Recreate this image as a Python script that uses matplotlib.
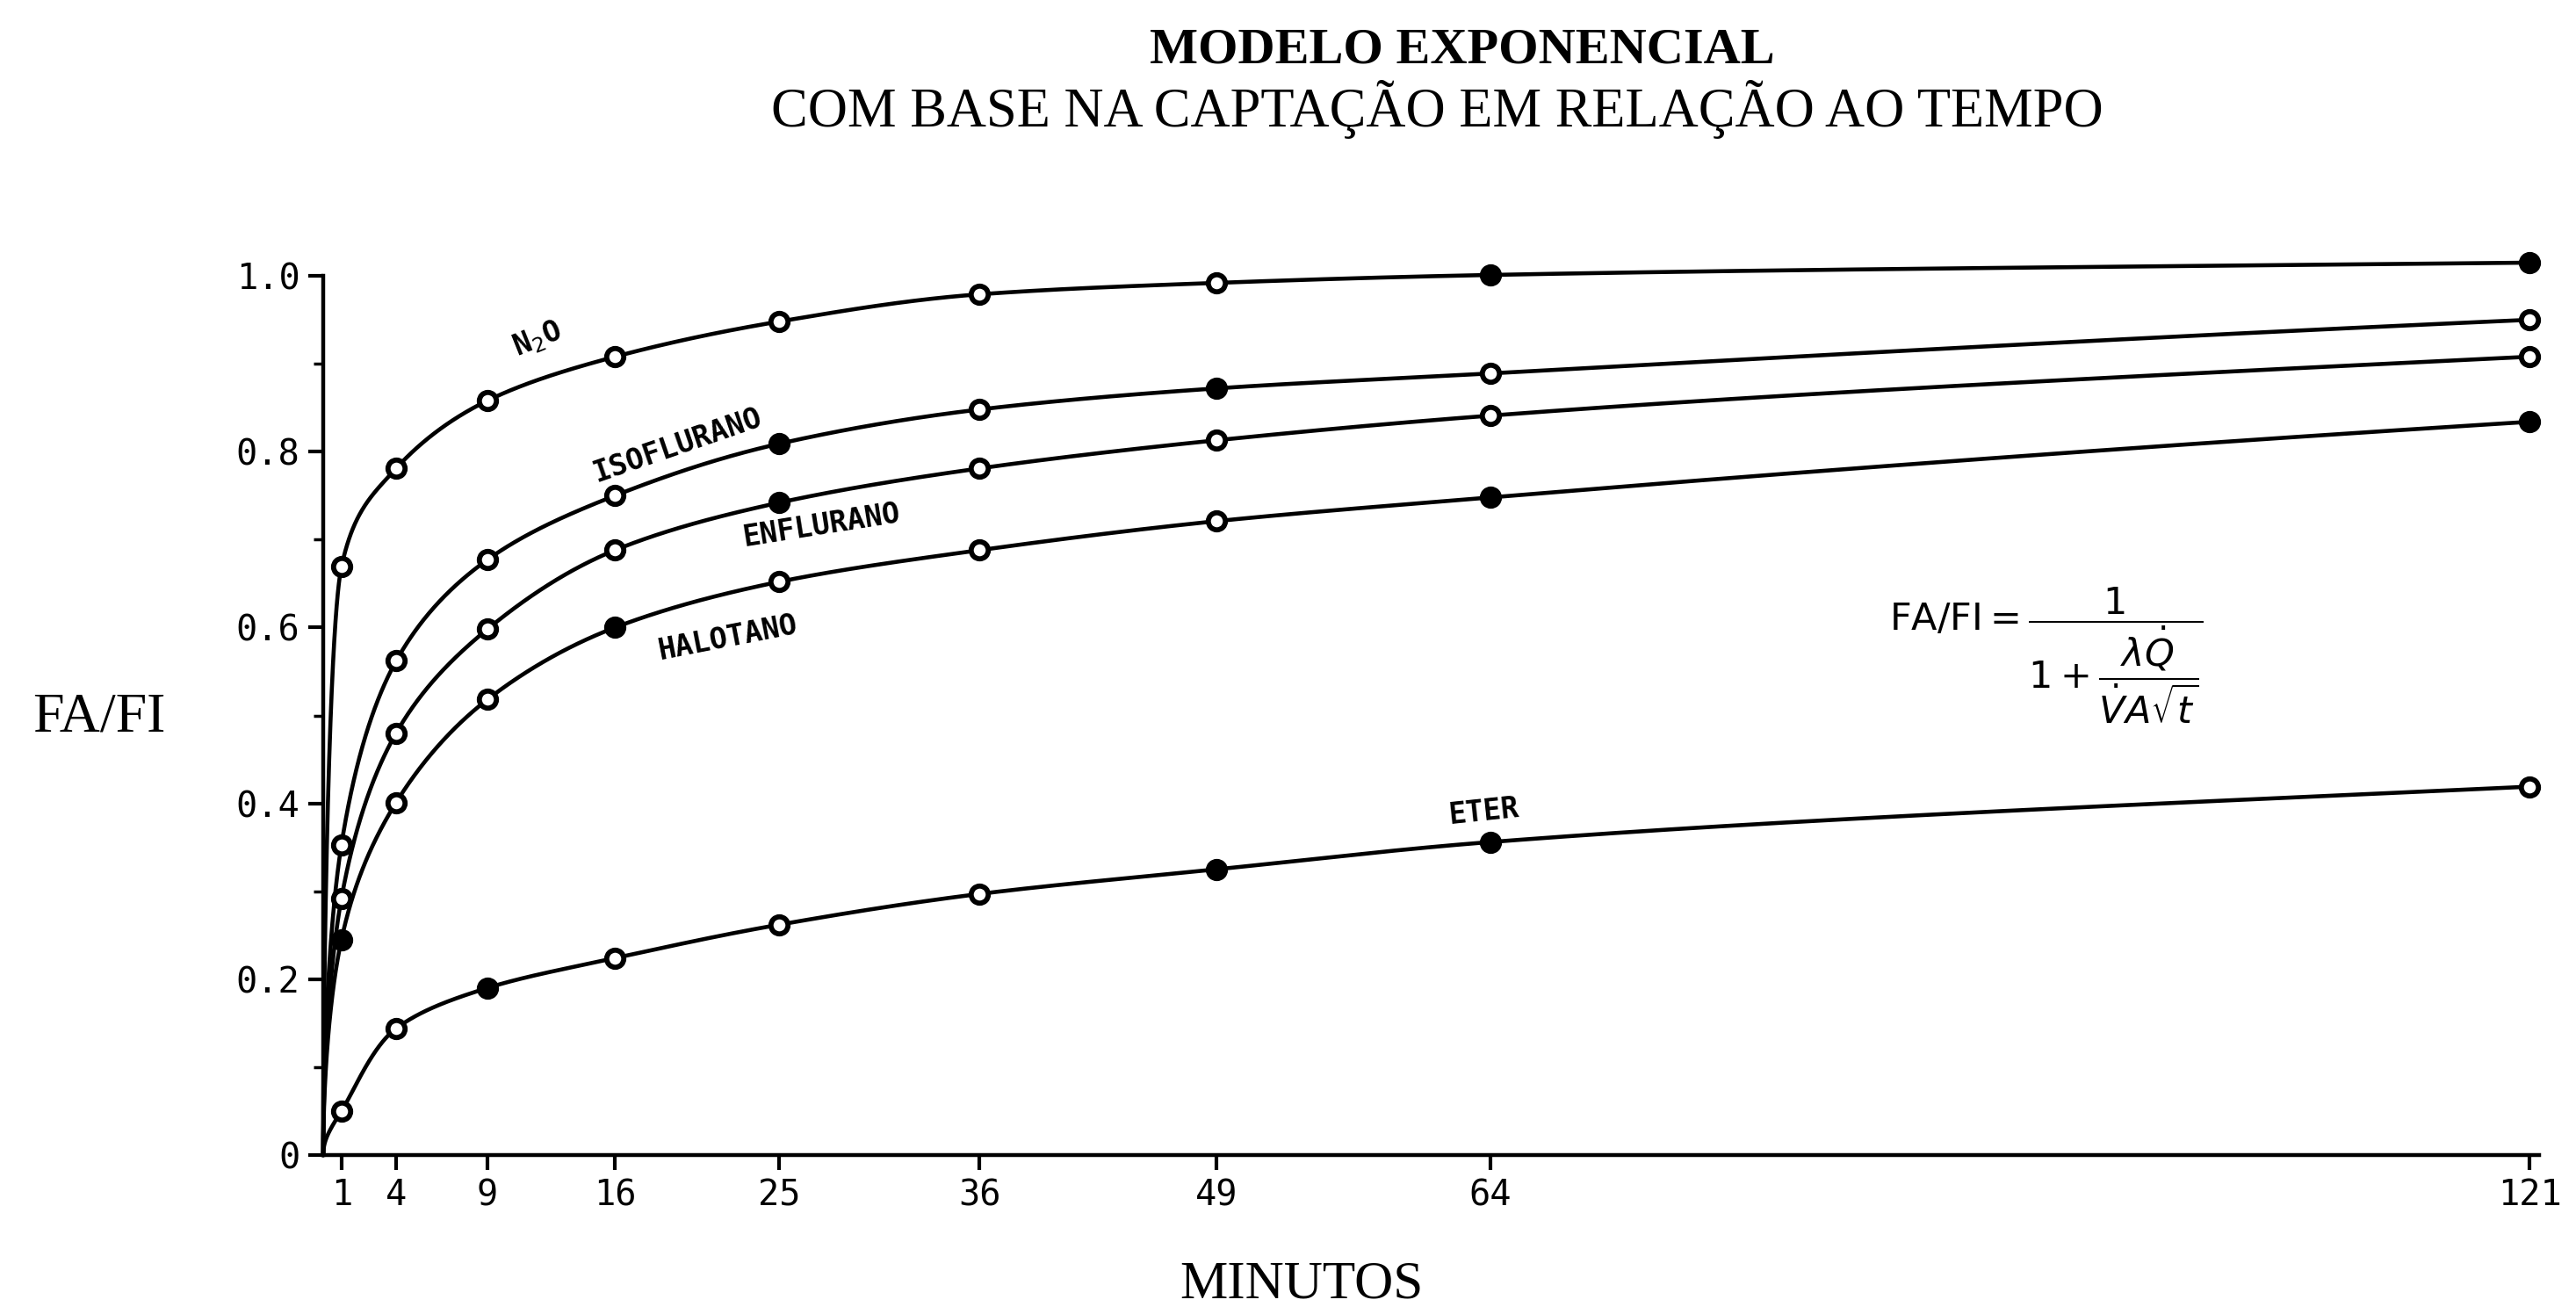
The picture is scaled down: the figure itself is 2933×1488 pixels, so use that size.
import numpy as np
import matplotlib
matplotlib.use('Agg')
import matplotlib.pyplot as plt

# ---------------- data ----------------
minutes = [1, 4, 9, 16, 25, 36, 49, 64, 121]
n2o        = [0.669, 0.781, 0.858, 0.908, 0.948, 0.979, 0.992, 1.001, 1.015]
isoflurano = [0.353, 0.562, 0.677, 0.750, 0.809, 0.848, 0.872, 0.889, 0.950]
enflurano  = [0.292, 0.480, 0.598, 0.688, 0.742, 0.781, 0.813, 0.841, 0.908]
halotano   = [0.245, 0.401, 0.518, 0.600, 0.652, 0.688, 0.721, 0.748, 0.834]
eter       = [0.050, 0.144, 0.190, 0.224, 0.262, 0.297, 0.325, 0.356, 0.419]
series_names = ['N$_2$O', 'ISOFLURANO', 'ENFLURANO', 'HALOTANO', 'ETER']
series_vals = [n2o, isoflurano, enflurano, halotano, eter]
# marker fill pattern (f = filled, o = open)
fills = [
    'oooooooff',
    'oooofofoo',
    'oooofoooo',
    'foofoooff',
    'oofoooffo',
]
yticks = [0, 0.2, 0.4, 0.6, 0.8, 1.0]
ytick_labels = ['0', '0.2', '0.4', '0.6', '0.8', '1.0']
xtick_labels = [str(m) for m in minutes]


def pchip(x, y, xn):
    x = np.asarray(x, float); y = np.asarray(y, float)
    h = np.diff(x); d = np.diff(y) / h
    n = len(x); m = np.zeros(n)
    for k in range(1, n - 1):
        if d[k - 1] * d[k] > 0:
            w1 = 2 * h[k] + h[k - 1]; w2 = h[k] + 2 * h[k - 1]
            m[k] = (w1 + w2) / (w1 / d[k - 1] + w2 / d[k])
    m[0] = d[0]; m[-1] = d[-1]
    idx = np.clip(np.searchsorted(x, xn) - 1, 0, n - 2)
    t = (xn - x[idx]) / h[idx]
    h00 = 2 * t**3 - 3 * t**2 + 1; h10 = t**3 - 2 * t**2 + t
    h01 = -2 * t**3 + 3 * t**2; h11 = t**3 - t**2
    return h00 * y[idx] + h10 * h[idx] * m[idx] + h01 * y[idx + 1] + h11 * h[idx] * m[idx + 1]


W, H = 2933, 1488
fig = plt.figure(figsize=(W / 100, H / 100), dpi=100)
fig.patch.set_facecolor('white')

left = 368 / W
bottom = 1 - 1315 / H
ax = fig.add_axes([left, bottom, (2901 - 368) / W, (1315 - 284) / H])
ax.set_xlim(0, 122)
ax.set_ylim(0, 1.03)

s_pts = np.sqrt(np.array([0] + minutes, float))
s_fine = np.linspace(0, s_pts[-1], 1500)
for vals, fl in zip(series_vals, fills):
    yv = np.array([0.0] + list(vals))
    yf = pchip(s_pts, yv, s_fine)
    ax.plot(s_fine**2, yf, color='black', lw=3.3, solid_capstyle='round', clip_on=False, zorder=2)
    for t, v, f in zip(minutes, vals, fl):
        ax.plot([t], [v], marker='o', ms=14, mew=4.2, mec='black',
                mfc='black' if f == 'f' else 'white', clip_on=False, zorder=3)

for sp in ['top', 'right']:
    ax.spines[sp].set_visible(False)
for sp in ['left', 'bottom']:
    ax.spines[sp].set_linewidth(3.2)
ax.spines['left'].set_bounds(0, 1.0)
ax.spines['bottom'].set_bounds(0, 121.5)

mono = 'DejaVu Sans Mono'
ax.set_yticks(yticks)
ax.set_yticklabels(ytick_labels, fontfamily=mono, fontsize=29)
ax.set_xticks(minutes)
ax.set_xticklabels(xtick_labels, fontfamily=mono, fontsize=29)
ax.set_yticks(np.arange(0.1, 1.0, 0.2), minor=True)
ax.tick_params(axis='both', which='major', direction='out', length=12, width=3, pad=7)
ax.tick_params(axis='y', which='minor', direction='out', length=8, width=2.5)

# curve labels
labels_pos = [(612, 386, 22), (771, 507, 19), (935, 598, 9), (829, 726, 11), (1689, 924, 6)]
for name, (px, py, rot) in zip(series_names, labels_pos):
    fig.text(px / W, 1 - py / H, name, fontfamily=mono, fontweight='bold', fontsize=24,
             ha='center', va='center', rotation=rot, rotation_mode='anchor')

# formula
fig.text(2151 / W, 1 - 718 / H,
         r'FA/FI$=\dfrac{1}{1+\dfrac{\lambda\dot{Q}}{\dot{V}A\sqrt{t}}}$',
         fontfamily='DejaVu Sans', fontsize=31, ha='left', va='baseline',
         math_fontfamily='dejavusans')

# titles & axis labels
serif = 'Liberation Serif'
fig.text(1665 / W, 1 - 58 / H, 'MODELO EXPONENCIAL', fontfamily=serif, fontweight='bold',
         fontsize=42, ha='center', va='center')
fig.text(1636 / W, 1 - 124 / H, 'COM BASE NA CAPTAÇÃO EM RELAÇÃO AO TEMPO', fontfamily=serif,
         fontsize=45, ha='center', va='center')
fig.text(113 / W, 1 - 818 / H, 'FA/FI', fontfamily=serif, fontsize=46, ha='center', va='center')
fig.text(1482 / W, 1 - 1463 / H, 'MINUTOS', fontfamily=serif, fontsize=44, ha='center', va='center')

fig.savefig('out.png', dpi=100, facecolor='white')
